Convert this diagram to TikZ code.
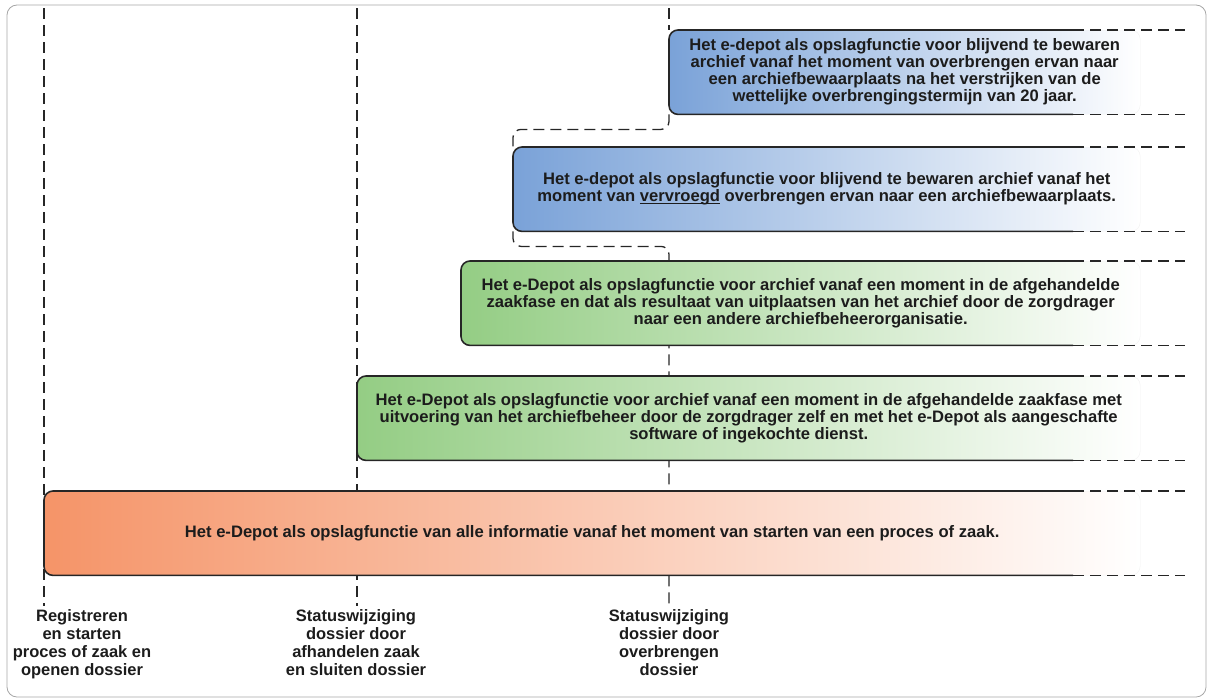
\documentclass[tikz,border=0pt]{standalone}
\usepackage{fontspec}
\setmainfont{Liberation Sans}
\usetikzlibrary{positioning,calc,backgrounds}

\definecolor{barblue}{RGB}{122,162,216}
\definecolor{bargreen}{RGB}{148,205,132}
\definecolor{barorange}{RGB}{245,148,104}
\definecolor{inktext}{RGB}{28,28,28}

% underline just below the baseline
\newcommand{\ulword}[1]{\setbox0\hbox{#1}\rlap{\rule[-2.4pt]{\wd0}{1.1pt}}#1}

\begin{document}
\begin{tikzpicture}[x=1pt, y=-1pt,
				bar/.style={rectangle, rounded corners=9pt, draw=black!5, anchor=north west, minimum height=84pt, inner sep=0pt, right color=white, text=inktext, align=center, font=\bfseries\fontsize{16.6}{17}\selectfont},
				edge/.style={draw=black!85, line width=1.6pt, rounded corners=9pt},
				guide/.style={draw=black!85, line width=1.3pt, dash pattern=on 11pt off 6pt},
				milestone/.style={anchor=north, align=center, text=inktext, font=\bfseries\fontsize{16.5}{18}\selectfont},
				frame/.style={draw=black!35, line width=0.8pt, rounded corners=10pt}
			]
			\useasboundingbox (0,0) rectangle (1212,699);
			\draw[frame] (7,5) rectangle (1206,697);
			\coordinate (top1) at (44,8);
			\coordinate (top2) at (357,8);
			\coordinate (top3) at (669,8);
			\coordinate (cut) at (1073,0);
			\coordinate (tail) at (1185,0);
			\node[bar, left color=barblue, minimum width=471pt] (b1) at (669,30) {Het e-depot als opslagfunctie voor blijvend te bewaren\\archief vanaf het moment van overbrengen ervan naar\\een archiefbewaarplaats na het verstrijken van de\\wettelijke overbrengingstermijn van 20 jaar.};
			\node[bar, left color=barblue, minimum width=627pt] (b2) at (513,147) {Het e-depot als opslagfunctie voor blijvend te bewaren archief vanaf het\\moment van \ulword{vervroegd} overbrengen ervan naar een archiefbewaarplaats.};
			\node[bar, left color=bargreen, minimum width=679pt] (b3) at (461,261) {Het e-Depot als opslagfunctie voor archief vanaf een moment in de afgehandelde\\zaakfase en dat als resultaat van uitplaatsen van het archief door de zorgdrager\\naar een andere archiefbeheerorganisatie.};
			\node[bar, left color=bargreen, minimum width=783pt] (b4) at (357,376) {Het e-Depot als opslagfunctie voor archief vanaf een moment in de afgehandelde zaakfase met\\uitvoering van het archiefbeheer door de zorgdrager zelf en met het e-Depot als aangeschafte\\software of ingekochte dienst.};
			\node[bar, left color=barorange, minimum width=1096pt] (b5) at (44,491) {Het e-Depot als opslagfunctie van alle informatie vanaf het moment van starten van een proces of zaak.};
			\node[milestone] (lab1) at (82,606) {Registreren\\en starten\\proces of zaak en\\openen dossier};
			\node[milestone] (lab2) at (356,606) {Statuswijziging\\dossier door\\afhandelen zaak\\en sluiten dossier};
			\node[milestone] (lab3) at (669,606) {Statuswijziging\\dossier door\\overbrengen\\dossier};
			\begin{scope}[on background layer]
			\draw[guide] (top1) -- (lab1.north -| top1);
			\draw[guide] (top2) -- (lab2.north -| top2);
			\draw[guide] (top3) -- (b1.north west);
			\draw[guide, rounded corners=8pt] (b1.south west) -- ++(0,15) -| (b2.north west);
			\draw[guide, rounded corners=8pt] (b2.south west) -- ++(0,15) -| (lab3.north);
			\end{scope}
			\draw[edge] (b1.north -| cut) -- (b1.north west) -- (b1.south west) -- (b1.south -| cut);
			\draw[edge] (b2.north -| cut) -- (b2.north west) -- (b2.south west) -- (b2.south -| cut);
			\draw[edge] (b3.north -| cut) -- (b3.north west) -- (b3.south west) -- (b3.south -| cut);
			\draw[edge] (b4.north -| cut) -- (b4.north west) -- (b4.south west) -- (b4.south -| cut);
			\draw[edge] (b5.north -| cut) -- (b5.north west) -- (b5.south west) -- (b5.south -| cut);
			\draw[guide] (b1.north -| cut) -- (b1.north -| tail);
			\draw[guide] (b1.south -| cut) -- (b1.south -| tail);
			\draw[guide] (b2.north -| cut) -- (b2.north -| tail);
			\draw[guide] (b2.south -| cut) -- (b2.south -| tail);
			\draw[guide] (b3.north -| cut) -- (b3.north -| tail);
			\draw[guide] (b3.south -| cut) -- (b3.south -| tail);
			\draw[guide] (b4.north -| cut) -- (b4.north -| tail);
			\draw[guide] (b4.south -| cut) -- (b4.south -| tail);
			\draw[guide] (b5.north -| cut) -- (b5.north -| tail);
			\draw[guide] (b5.south -| cut) -- (b5.south -| tail);
			\end{tikzpicture}
\end{document}
